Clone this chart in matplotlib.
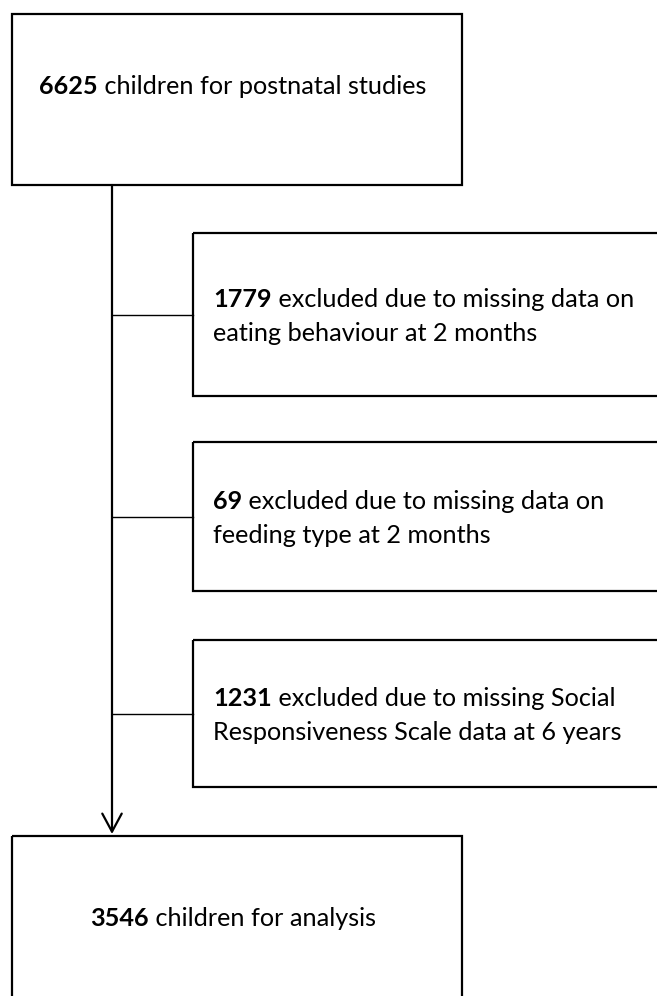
import matplotlib
matplotlib.use("Agg")
import matplotlib.pyplot as plt
from matplotlib.patches import Rectangle

plt.rcParams['font.family'] = ['Lato', 'DejaVu Sans']

# flow chart content
start_n = "6625"
start_text = " children for postnatal studies"
excl_n = ["1779", "69", "1231"]
excl_line1 = [" excluded due to missing data on",
              " excluded due to missing data on",
              " excluded due to missing Social"]
excl_line2 = ["eating behaviour at 2 months",
              "feeding type at 2 months",
              "Responsiveness Scale data at 6 years"]
end_n = "3546"
end_text = " children for analysis"

W, H = 657, 996
FS = 18.2

# layout (pixels, y downwards)
main_box = (12, 14, 462, 185)       # x0, y0, x1, y1
end_box = (12, 836, 462, 1100)
excl_x0, excl_x1 = 193, 720
excl_y = [(233, 396), (442, 591), (640, 787)]
spine_x = 112
lw_box = 1.6
lw_link = 1.0

fig = plt.figure(figsize=(W / 100, H / 100), dpi=100)
ax = fig.add_axes([0, 0, 1, 1])
ax.set_xlim(0, W)
ax.set_ylim(H, 0)
ax.axis('off')


def box(x0, y0, x1, y1):
    ax.add_patch(Rectangle((x0, y0), x1 - x0, y1 - y0, fill=False,
                           edgecolor='black', linewidth=lw_box, clip_on=True))


def bold_then_plain(x, y, num, rest, center=False):
    b = ax.text(x, y, num, fontsize=FS, fontweight='bold', va='center',
                ha='left')
    r = ax.annotate(rest, xy=(1, 0), xycoords=b, fontsize=FS, va='bottom',
                    ha='left')
    if center:
        fig.canvas.draw()
        rend = fig.canvas.get_renderer()
        wb = b.get_window_extent(rend).width
        wr = r.get_window_extent(rend).width
        b.set_x(x - (wb + wr) / 2 - 4)
    return b


box(*main_box)
box(*end_box)
bold_then_plain((main_box[0] + main_box[2]) / 2, 86, start_n, start_text,
                center=True)
bold_then_plain((end_box[0] + end_box[2]) / 2, 918, end_n, end_text,
                center=True)

for i, (y0, y1) in enumerate(excl_y):
    box(excl_x0, y0, excl_x1, y1)
    mid = (y0 + y1) / 2
    ax.plot([spine_x, excl_x0], [mid, mid], color='black', lw=lw_link)
    bold_then_plain(excl_x0 + 20, mid - 15, excl_n[i], excl_line1[i])
    ax.text(excl_x0 + 20, mid + 19, excl_line2[i], fontsize=FS, va='center',
            ha='left')

# main spine with open arrow head
ax.annotate('', xy=(spine_x, end_box[1] - 2), xytext=(spine_x, main_box[3]),
            arrowprops=dict(arrowstyle='->,head_length=1.3,head_width=0.7',
                            mutation_scale=10, color='black', lw=lw_box,
                            shrinkA=0, shrinkB=0))

fig.savefig('out.png', dpi=100)
